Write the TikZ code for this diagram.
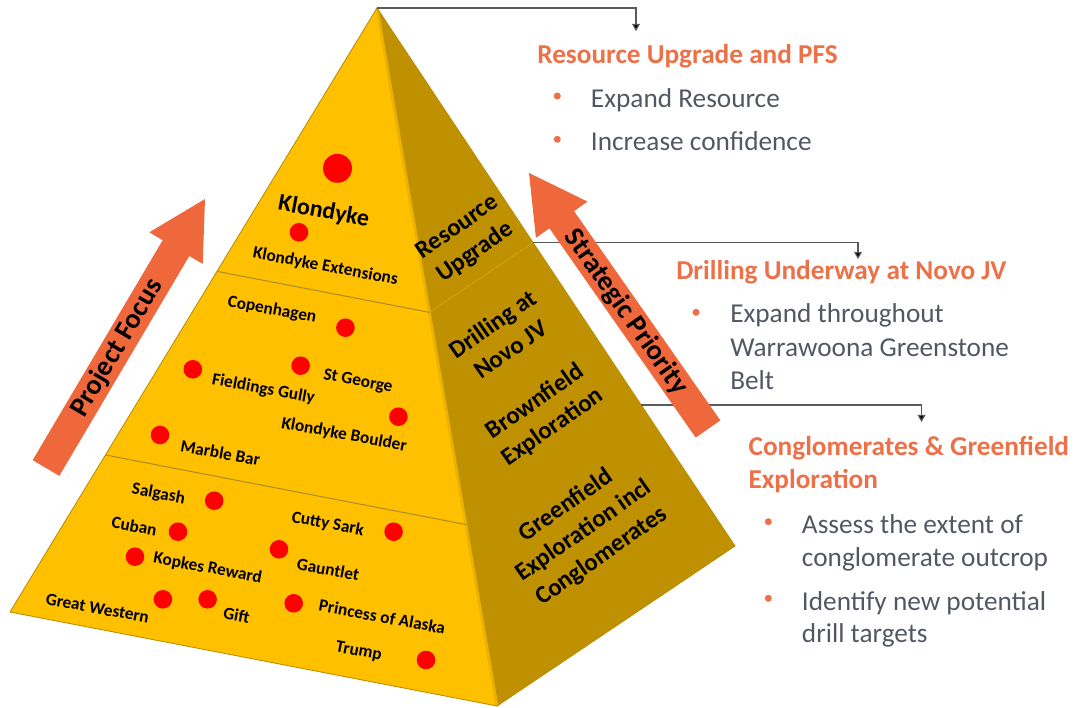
\documentclass[tikz,border=0pt]{standalone}
\usepackage{fontspec}
\setmainfont{Carlito}
\usetikzlibrary{arrows.meta,calc}
\definecolor{faceY}{RGB}{255,192,0}
\definecolor{faceD}{RGB}{191,144,0}
\definecolor{edgeC}{RGB}{184,142,0}
\definecolor{divC}{RGB}{168,140,40}
\definecolor{divD}{RGB}{205,160,20}
\definecolor{ridgeC}{RGB}{236,178,0}
\definecolor{arrowO}{RGB}{238,104,60}
\definecolor{headO}{RGB}{236,112,72}
\definecolor{bodyG}{RGB}{82,88,98}
\definecolor{dotR}{RGB}{255,0,0}
\definecolor{connC}{RGB}{90,90,90}
\begin{document}
\begin{tikzpicture}[x=0.025cm,y=-0.025cm,
  lab/.style={font=\bfseries\fontsize{12.3}{14}\selectfont, rotate=-10.5, inner sep=0pt},
  biglab/.style={font=\bfseries\fontsize{17}{20}\selectfont, rotate=-10.5, inner sep=0pt},
  dlab/.style={font=\bfseries\fontsize{17.6}{22}\selectfont, rotate=35, align=center, inner sep=0pt},
  reddot/.style={circle, fill=dotR, inner sep=0pt, minimum size=13.2pt},
  bigdot/.style={circle, fill=dotR, inner sep=0pt, minimum size=20.6pt},
  blockarrow/.style={fill=arrowO, draw=none},
  arrlab/.style={font=\bfseries\fontsize{20}{24}\selectfont, inner sep=0pt},
  head/.style={font=\bfseries\fontsize{19.4}{23.7}\selectfont, text=headO, anchor=base west, inner sep=0pt},
  body/.style={font=\fontsize{19.4}{23.7}\selectfont, text=bodyG, anchor=base west, inner sep=0pt},
  bullet/.style={circle, fill=headO, inner sep=0pt, minimum size=5pt},
  conn/.style={draw=connC, line width=0.8pt, -{Triangle[width=5.5pt,length=5pt,fill=black]}}
]
\useasboundingbox (0,0) rectangle (1076,708);

% pyramid corners
\coordinate (A) at (377,8);
\coordinate (L) at (10,612);
\coordinate (F) at (497,706);
\coordinate (R) at (735,546);
% divider points
\coordinate (D1L) at ($(A)!0.436!(L)$);
\coordinate (D1F) at ($(A)!0.436!(F)$);
\coordinate (D1R) at ($(A)!0.436!(R)$);
\coordinate (D2L) at ($(A)!0.740!(L)$);
\coordinate (D2F) at ($(A)!0.740!(F)$);
\coordinate (D2R) at ($(A)!0.738!(R)$);

% faces
\fill[faceD] (A) -- (F) -- (R) -- cycle;
\fill[faceY] (A) -- (L) -- (F) -- cycle;
\draw[ridgeC, line width=2pt] (A) -- (F);
\draw[edgeC, line width=0.6pt] (A) -- (L) -- (F) -- (R) -- cycle;
\draw[divC, line width=0.7pt] (D1L) -- (D1F);
\draw[divC, line width=0.7pt] (D2L) -- (D2F);
\draw[divD, line width=0.7pt] (D1F) -- (D1R);

% top tier
\node[bigdot] (dK) at (337.5,168.3) {};
\node[biglab] (tK) at (323.7,211.7) {Klondyke};
\node[reddot] (dKE) at (299,232.3) {};
\node[lab] (tKE) at (325.4,266.7) {Klondyke Extensions};
% middle tier
\node[lab] (tCo) at (272,310) {Copenhagen};
\node[reddot] (dCo) at (345.4,327.7) {};
\node[reddot] (dSG) at (300.6,365.7) {};
\node[lab] (tSG) at (358,381.7) {St George};
\node[reddot] (dFG) at (192.8,369.3) {};
\node[lab] (tFG) at (263.4,389.3) {Fieldings Gully};
\node[reddot] (dKB) at (398.4,416.7) {};
\node[lab] (tKB) at (344,435) {Klondyke Boulder};
\node[reddot] (dMB) at (160,435) {};
\node[lab] (tMB) at (220.4,452.7) {Marble Bar};
% bottom tier
\node[lab] (tSa) at (158.4,494.3) {Salgash};
\node[reddot] (dSa) at (214.2,500.7) {};
\node[lab] (tCu) at (134.3,526) {Cuban};
\node[reddot] (dCu) at (178,531.7) {};
\node[lab] (tCS) at (327.8,524.3) {Cutty Sark};
\node[reddot] (dCS) at (393.6,531.7) {};
\node[reddot] (dKR) at (135,556.7) {};
\node[lab] (tKR) at (207.6,568.3) {Kopkes Reward};
\node[reddot] (dGa) at (279,549.3) {};
\node[lab] (tGa) at (328.2,569.3) {Gauntlet};
\node[lab] (tGW) at (97.5,608.3) {Great Western};
\node[reddot] (dGW) at (162.9,599.3) {};
\node[reddot] (dGi) at (207.6,599.3) {};
\node[lab] (tGi) at (236.6,615) {Gift};
\node[reddot] (dPA) at (293.7,603.3) {};
\node[lab] (tPA) at (382.2,616.7) {Princess of Alaska};
\node[lab] (tTr) at (358.8,651.7) {Trump};
\node[reddot] (dTr) at (426,660) {};

% dark face labels
\node[dlab] (sRU) at (466.7,240.2) {Resource\\Upgrade};
\node[dlab] (sDN) at (501.7,336.4) {Drilling at\\Novo JV};
\node[dlab] (sBE) at (544,414.6) {Brownfield\\Exploration};
\node[dlab] (sGE) at (584,531) {Greenfield\\Exploration incl\\Conglomerates};

% connector targets
\coordinate (t1) at (636,31);
\coordinate (t2) at (858,259);
\coordinate (t3) at (921.5,422);
\draw[conn] (A) -| (t1);
\draw[conn] (D1R) -| (t2);
\draw[conn] (D2R) -| (t3);

% block arrows
\fill[blockarrow] (32.7,460.1) -- (162.7,240.2) -- (149.3,232.3) -- (205,199)
  -- (202.7,263.9) -- (189.3,256) -- (59.3,475.9) -- cycle;
\node[arrlab, rotate=59.4] (pf) at (117,348) {Project Focus};
\fill[blockarrow] (695.7,437.6) -- (549.4,228.3) -- (535.9,237.8) -- (529,173)
  -- (587.5,201.6) -- (574,211.1) -- (720.3,420.4) -- cycle;
\node[arrlab, rotate=-55] (sp) at (626,312) {Strategic Priority};

% right text
\node[head] (h1) at (537,63.3) {Resource Upgrade and PFS};
\node[bullet] (bu1) at (557.3,96) {};
\node[body] (b1) at (590.7,107.3) {Expand Resource};
\node[bullet] (bu2) at (557.3,139.3) {};
\node[body] (b2) at (590.7,150.7) {Increase confidence};

\node[head] (h2) at (676,279.3) {Drilling Underway at Novo JV};
\node[bullet] (bu3) at (696,312.3) {};
\node[body] (b3a) at (730,322.7) {Expand throughout};
\node[body] (b3b) at (730,356) {Warrawoona Greenstone};
\node[body] (b3c) at (730,389.3) {Belt};

\node[head] (h3a) at (748.3,455.5) {Conglomerates \& Greenfield};
\node[head] (h3b) at (748.3,488.3) {Exploration};
\node[bullet] (bu4) at (768.3,521.7) {};
\node[body] (b4a) at (801.7,533.3) {Assess the extent of};
\node[body] (b4b) at (801.7,566.7) {conglomerate outcrop};
\node[bullet] (bu5) at (768.3,598.3) {};
\node[body] (b5a) at (801.7,610.7) {Identify new potential};
\node[body] (b5b) at (801.7,642.7) {drill targets};
\end{tikzpicture}
\end{document}
